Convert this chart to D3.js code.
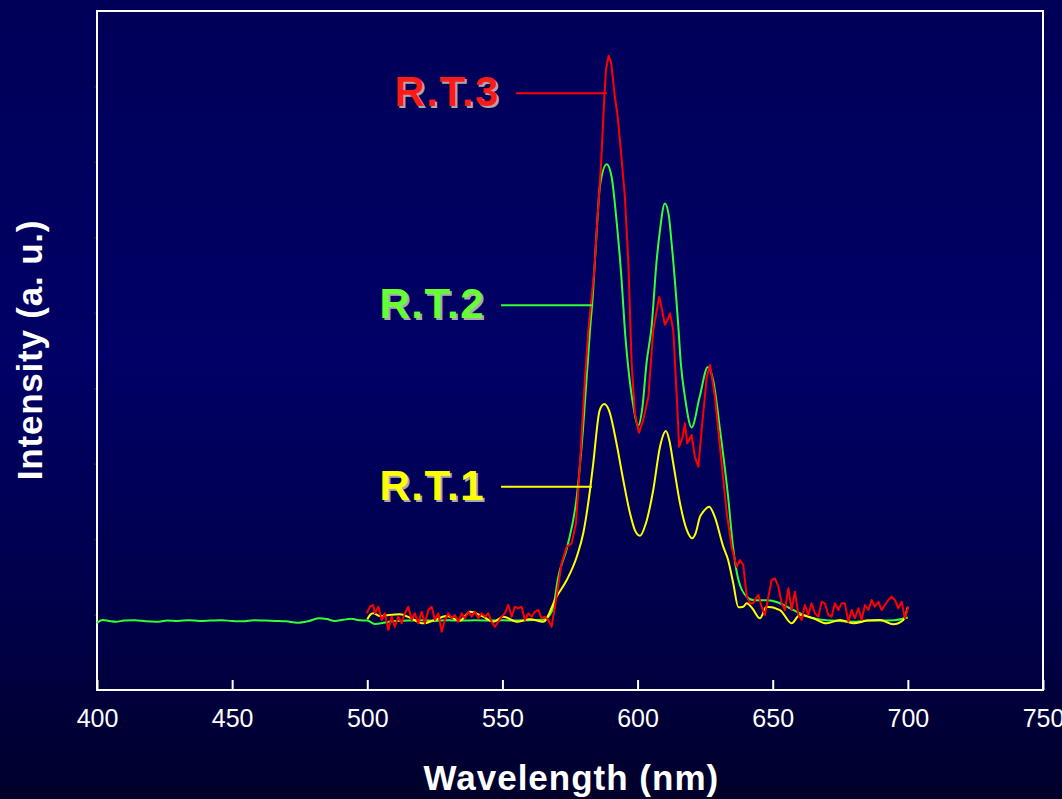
<!DOCTYPE html>
<meta charset="utf-8">
<style>
  html, body { margin: 0; padding: 0; background: #000040; }
  svg { display: block; font-family: Arial, "Liberation Sans", sans-serif; }
</style>
<svg width="1062" height="799"></svg>
<script src="https://cdn.jsdelivr.net/npm/d3@7"></script>
<script>

// x axis ticks (nm) and y grid ticks (a. u.)
var xTicks = [400, 450, 500, 550, 600, 650, 700, 750];
var yTicks = [100, 200, 300, 400, 500, 600, 700, 800];

// R.T.2 spectrum, [wavelength, intensity]
var rt2 = [
  [400, 88.8], [402, 92.8], [404.5, 91.5], [407, 90.5], [410, 92.0], [414, 92.5], [418, 91.0],
  [422, 90.5], [426, 92.0], [430, 91.5], [434, 92.5], [438, 91.5], [442, 92.0], [446, 92.5],
  [450, 91.5], [454, 91.0], [458, 92.5], [462, 92.0], [466, 91.5], [470, 91.0], [474, 89.0],
  [478, 91.0], [482, 95.0], [485, 94.0], [488, 91.5], [491, 93.0], [494, 94.5], [497, 92.5],
  [500, 92.0], [503, 87.5], [506, 89.0], [510, 91.5], [515, 92.0], [520, 92.5], [525, 91.5],
  [530, 92.5], [535, 92.0], [540, 92.5], [545, 92.0], [550, 92.5], [555, 92.0], [560, 92.5],
  [565, 93.0], [567, 97], [569, 113], [570.5, 147], [574, 190], [577.5, 256], [579.8, 345],
  [582.4, 477], [583.4, 521], [584.9, 610], [586.1, 669], [588.6, 697], [590.4, 680],
  [592.3, 619], [594.1, 543], [595.3, 477], [596.4, 433], [598.5, 375], [600.1, 350],
  [601.8, 375], [603.3, 433], [605.2, 482], [607, 567], [608.3, 610], [610.1, 645],
  [611.5, 630], [612.6, 592], [615, 486], [616, 433], [617.5, 389], [620, 348], [623, 389],
  [626, 428], [628, 410], [630.5, 345], [633.5, 256], [635.3, 190], [637.3, 146], [640.3, 124],
  [643, 119], [648, 119], [652, 116], [656, 109], [660, 102], [664, 96], [668, 93], [672, 92],
  [676, 91], [680, 90.5], [685, 92], [690, 92], [695, 92.5], [700, 96]
];

// R.T.1 spectrum
var rt1 = [
  [500, 93.7], [501, 99.4], [502.2, 101.7], [504.7, 98.1], [508, 99.5], [512.1, 100.3],
  [516, 95.5], [520.7, 88.4], [525, 93], [529.4, 98.1], [534.3, 91.9], [538, 103.8],
  [542.9, 97.2], [546.6, 90.5], [550.3, 97.2], [555.3, 90.5], [560.2, 93.7], [565.1, 90.5],
  [570, 123.7], [573.8, 145.8], [577.5, 176.7], [579.9, 207.7], [582.4, 265.1], [583.6, 300.5],
  [586, 371.1], [587.7, 379.1], [589.5, 370], [592.2, 327], [594.7, 278.4], [597.2, 234.2],
  [599, 212], [600.9, 204.5], [603, 220], [605.8, 265.1], [608.3, 322.5], [610.5, 343.3],
  [611.8, 330], [613.2, 300.5], [615.7, 247.5], [618.2, 212.1], [620.2, 201.1], [621.5, 208],
  [623.1, 229.7], [624.3, 236.3], [626.5, 243], [628.5, 230], [631.7, 190], [633.5, 172.3],
  [635.4, 141.4], [637.3, 109.6], [639.1, 110.4], [640.4, 115], [642.5, 108], [645.3, 95],
  [647.7, 110.4], [652.7, 106], [657, 88.4], [660, 99.4], [665, 95], [669.9, 88.4],
  [674.9, 92.8], [679.8, 88.4], [685, 92], [689.7, 92.8], [694.6, 87], [698.3, 92.8], [700, 110.4]
];

// R.T.3 spectrum (noisy)
var rt3 = [
  [499.8, 101.7], [501, 110.4], [502.2, 112.7], [502.8, 101.7], [504.1, 110.4], [505.3, 92.8],
  [506.5, 101.7], [507.8, 79.5], [509, 97.2], [510.2, 83.9], [511.5, 97.2], [512.7, 88.4],
  [513.9, 101.7], [515.2, 110.4], [516.4, 92.8], [517.6, 101.7], [518.9, 88.4], [520.1, 103.8],
  [521.3, 88.4], [522.6, 106], [523.8, 110.4], [525, 92.8], [526.3, 101.7], [527.5, 77.3],
  [528.7, 92.8], [530, 101.7], [531.2, 95], [532.4, 99.4], [533.7, 90.5], [534.9, 101.7],
  [536.1, 95], [537.4, 103.8], [538.6, 97.2], [539.8, 103.8], [541.1, 95], [542.3, 101.7],
  [543.5, 97.2], [544.8, 101.7], [546, 90.5], [547.2, 83.9], [548.5, 90.5], [549.7, 97.2],
  [550.9, 101.7], [552.2, 112.7], [553.4, 97.2], [554.6, 110.4], [555.9, 108.3], [557.1, 110.4],
  [558.3, 92.8], [559.6, 101.7], [560.8, 97.2], [562, 103.8], [563.3, 106], [564.5, 95],
  [565.7, 97.2], [567, 92.8], [568.2, 83.9], [570, 123.7], [571.9, 168], [573.8, 190],
  [575.6, 194.4], [577.2, 221], [578.7, 300.5], [580.5, 411], [581.8, 477], [584, 556.7],
  [584.9, 609.7], [586.5, 698], [587.7, 786], [588.3, 821.8], [589.3, 840.8], [590.3, 830],
  [591.6, 786], [592.5, 764], [593.7, 720], [595.3, 654], [596.6, 565.6], [597.4, 477],
  [597.8, 433], [599, 367], [600.5, 341], [602.1, 358], [604, 389], [605.8, 477], [608, 521],
  [609, 505], [610.1, 484], [611, 490], [612, 499], [613.2, 477], [614.5, 389], [615.4, 322.5],
  [616.7, 335.7], [617.5, 353.5], [618.4, 327], [620, 338], [621.2, 309], [622.5, 296],
  [623.7, 344.6], [625.6, 415], [626.8, 430.8], [628.6, 388.8], [631.1, 300.5], [633, 234.2],
  [634.8, 190], [636, 172.3], [636.7, 163.2], [637.9, 172.3], [639.1, 165.7], [640.4, 123.7],
  [641.6, 115], [642.8, 114.9], [644.1, 123.7], [644.7, 125.9], [645.9, 110.4], [647.1, 99.4],
  [648.4, 123.7], [649.6, 145.8], [650.8, 148], [652.1, 136.9], [653.3, 114.9], [654.5, 106],
  [655.8, 134.8], [657, 106], [658.2, 130.3], [659.5, 99.4], [660.7, 92.8], [661.9, 112.7],
  [663.2, 99.4], [664.4, 114.9], [665.6, 101.7], [666.9, 97.2], [668.1, 117], [669.3, 114.9],
  [670.6, 99.4], [671.8, 97.2], [673, 114.9], [674.3, 106], [675.5, 114.9], [676.7, 114.9],
  [678, 90.5], [679.2, 106], [680.4, 95], [681.7, 108.3], [682.9, 92.8], [684.1, 112.7],
  [685.4, 106], [686.6, 119.3], [687.8, 110.4], [689.1, 117], [690.3, 106], [691.5, 112.7],
  [692.8, 119.3], [694, 123.7], [695.2, 119.3], [696.5, 108.3], [697.7, 117], [698.9, 95],
  [700.1, 110.4]
];

// curve labels: name, leader line from/to (nm) and its intensity level
var labelNames = ["R.T.1", "R.T.2", "R.T.3"];
var labelColors = ["#ffff00", "#66ff33", "#ff1a1a"];
var lineColors = ["#ffff00", "#33ff33", "#ff0000"];
var leaderFrom = [549.5, 549.5, 555.0];
var leaderTo = [583.1, 583.1, 588.7];
var leaderLevel = [269.5, 510, 791];

var svg = d3.select("svg"),
    W = +svg.attr("width"), H = +svg.attr("height"),
    margin = {top: 11, right: 19, bottom: 109, left: 97},
    width = W - margin.left - margin.right,
    height = H - margin.top - margin.bottom;

// background gradient
var defs = svg.append("defs");
var grad = defs.append("linearGradient").attr("id", "bg")
    .attr("x1", 0).attr("y1", 0).attr("x2", 0).attr("y2", 1);
[[0, "#000058"], [0.45, "#000066"], [0.8, "#000046"], [1, "#00002a"]].forEach(function(s) {
  grad.append("stop").attr("offset", s[0]).attr("stop-color", s[1]);
});
svg.append("rect").attr("width", W).attr("height", H).attr("fill", "url(#bg)");

var g = svg.append("g").attr("transform", "translate(" + margin.left + "," + margin.top + ")");

var x = d3.scaleLinear().domain([400, 750]).range([0, width]);
var y = d3.scaleLinear().domain([0, 900]).range([height, 0]);

// y ticks: small dark notches, no labels
g.append("g")
    .attr("class", "axis axis--y")
    .call(d3.axisLeft(y).tickValues(yTicks).tickSize(3).tickFormat(""))
    .call(function(a) {
      a.select(".domain").remove();
      a.selectAll("line").attr("stroke", "#222").attr("stroke-width", 1.5);
    });

// x axis: inward ticks, labels below
g.append("g")
    .attr("class", "axis axis--x")
    .attr("transform", "translate(0," + height + ")")
    .call(d3.axisBottom(x).tickValues(xTicks).tickSizeInner(-10).tickSizeOuter(0).tickPadding(19))
    .call(function(a) {
      a.select(".domain").remove();
      a.selectAll("line").attr("stroke", "#fff").attr("stroke-width", 2);
      a.selectAll("text").attr("fill", "#fff")
        .style("font-size", "25px")
        .style("font-family", "Arial, 'Liberation Sans', sans-serif");
    });

// frame
g.append("rect")
    .attr("width", width).attr("height", height)
    .attr("fill", "none").attr("stroke", "#fff").attr("stroke-width", 2);

// spectra
var line = d3.line()
    .x(function(d) { return x(d[0]); })
    .y(function(d) { return y(d[1]); });

[rt2, rt1].forEach(function(data, i) {
  g.append("path")
      .datum(data)
      .attr("fill", "none")
      .attr("stroke", i === 0 ? lineColors[1] : lineColors[0])
      .attr("stroke-width", 2)
      .attr("stroke-linejoin", "round")
      .attr("d", line.curve(d3.curveMonotoneX));
});

g.append("path")
    .datum(rt3)
    .attr("fill", "none")
    .attr("stroke", lineColors[2])
    .attr("stroke-width", 2)
    .attr("stroke-linejoin", "round")
    .attr("d", line.curve(d3.curveLinear));

// labels with leader lines
labelNames.forEach(function(name, i) {
  var ly = y(leaderLevel[i]);
  g.append("line")
      .attr("x1", x(leaderFrom[i])).attr("x2", x(leaderTo[i]))
      .attr("y1", ly).attr("y2", ly)
      .attr("stroke", lineColors[i]).attr("stroke-width", 2);
  var tx = x(leaderFrom[i]) - 16, ty = ly + 13;
  [["#a8a8a8", 2], [labelColors[i], 0]].forEach(function(c) {
    g.append("text")
        .attr("x", tx + c[1]).attr("y", ty + c[1])
        .attr("text-anchor", "end")
        .attr("fill", c[0])
        .style("font-size", "42px").style("font-weight", "bold")
        .style("letter-spacing", "1.5px")
        .text(name);
  });
});

// axis titles
svg.append("text")
    .attr("x", margin.left + x(575.5))
    .attr("y", 790)
    .attr("text-anchor", "middle")
    .attr("fill", "#fff")
    .style("font-size", "35px").style("font-weight", "bold")
    .style("letter-spacing", "1px")
    .text("Wavelength (nm)");

svg.append("text")
    .attr("text-anchor", "middle")
    .attr("transform", "translate(42,350)rotate(-90)")
    .attr("fill", "#fff")
    .style("font-size", "35px").style("font-weight", "bold")
    .style("letter-spacing", "0.8px")
    .text("Intensity (a. u.)");
</script>
